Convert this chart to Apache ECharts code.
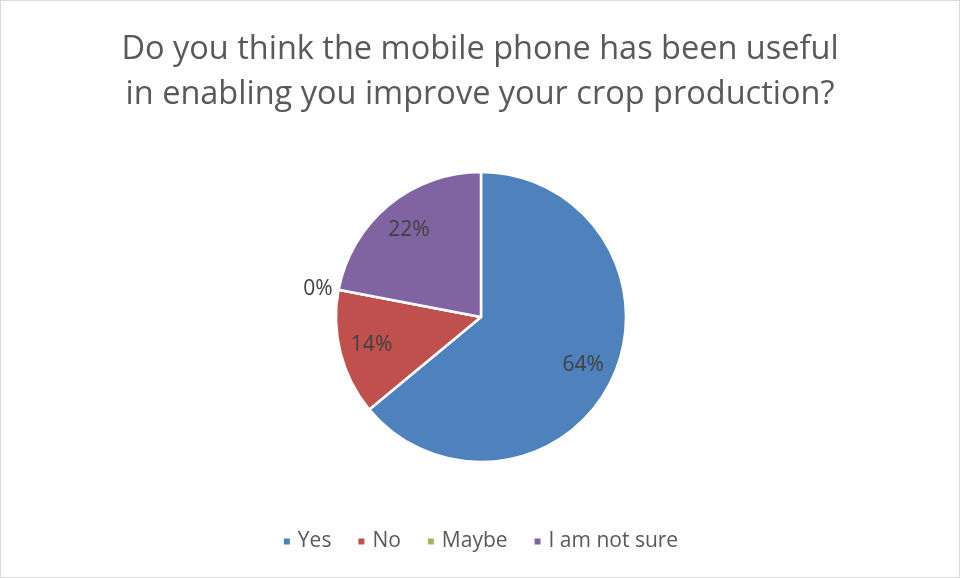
<!DOCTYPE html>
<html>
<head>
<meta charset="utf-8">
<script src="https://cdn.jsdelivr.net/npm/echarts@6/dist/echarts.min.js"></script>
<style>
  html, body { margin: 0; padding: 0; background: #fff; }
  #chart { width: 960px; height: 578px; box-sizing: border-box; border: 1px solid #d9d9d9; }
</style>
</head>
<body>
<div id="chart"></div>
<script>
// Survey answers and their share of respondents (%)
const categories = ['Yes', 'No', 'Maybe', 'I am not sure'];
const shares = [64, 14, 0, 22];
const colors = ['#4F81BD', '#C0504D', '#9BBB59', '#8064A2'];
const titleText = 'Do you think the mobile phone has been useful\nin enabling you improve your crop production?';

const FONT = '"Open Sans", "Noto Sans", sans-serif';
const center = [480, 316];

const sliceData = categories.map((name, i) => ({
  name,
  value: shares[i],
  itemStyle: { color: colors[i] }
}));

// Label ring: transparent copy of the pie whose mid-radius puts the
// percentages three quarters of the way out; empty slices label outside.
const labelData = categories.map((name, i) => {
  const item = { name, value: shares[i], itemStyle: { color: 'rgba(0,0,0,0)', borderWidth: 0 } };
  if (shares[i] === 0) {
    item.label = { position: 'outside', distanceToLabelLine: 2 };
    item.labelLine = { show: false, length: 4, length2: 0 };
  }
  return item;
});

const chart = echarts.init(document.getElementById('chart'), null, { renderer: 'canvas' });
chart.setOption({
  animation: false,
  backgroundColor: '#fff',
  title: {
    text: titleText,
    left: 'center',
    top: 21,
    textStyle: { fontFamily: FONT, fontSize: 32.5, fontWeight: 'normal', color: '#595959', lineHeight: 45, align: 'center' }
  },
  legend: {
    data: categories,
    bottom: 20,
    left: 'center',
    icon: 'rect',
    itemWidth: 8,
    itemHeight: 8,
    itemGap: 25,
    textStyle: { fontFamily: FONT, fontSize: 21, color: '#595959', padding: [0, 0, 0, 2] }
  },
  series: [
    {
      type: 'pie',
      center,
      radius: 145,
      startAngle: 90,
      clockwise: true,
      silent: true,
      label: { show: false },
      labelLine: { show: false },
      itemStyle: { borderColor: '#fff', borderWidth: 2.5 },
      data: sliceData
    },
    {
      type: 'pie',
      center,
      radius: [75, 145],
      startAngle: 90,
      clockwise: true,
      silent: true,
      label: {
        show: true,
        position: 'inside',
        formatter: '{c}%',
        fontFamily: FONT,
        fontSize: 21,
        color: '#404040'
      },
      labelLine: { show: false },
      data: labelData
    }
  ]
});
</script>
</body>
</html>
